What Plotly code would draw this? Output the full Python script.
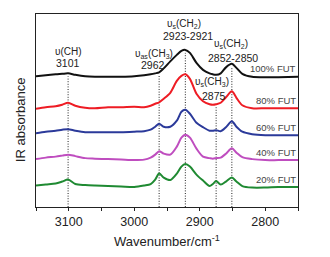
import numpy as np
import plotly.graph_objects as go

# Wavenumber grid (cm-1) at which the curves were read
wavenumber = [3150, 3135, 3120, 3110, 3101, 3090, 3075, 3060, 3040, 3020, 3000, 2985, 2975, 2968,
              2962, 2955, 2945, 2935, 2928, 2922, 2915, 2905, 2895, 2885, 2880, 2875, 2868, 2860,
              2851, 2844, 2835, 2820, 2800, 2780, 2750]

# IR absorbance (a.u., offset stacked)
fut100 = [1.310, 1.320, 1.330, 1.335, 1.340, 1.325, 1.310, 1.305, 1.305, 1.305, 1.310, 1.320, 1.330, 1.340,
          1.350, 1.390, 1.460, 1.525, 1.565, 1.575, 1.545, 1.445, 1.375, 1.340, 1.330, 1.325, 1.340, 1.400,
          1.435, 1.395, 1.335, 1.305, 1.302, 1.302, 1.305]
fut80 = [0.985, 1.000, 1.010, 1.025, 1.045, 1.015, 0.995, 0.990, 1.000, 1.000, 1.005, 1.000, 1.015, 1.035,
         1.050, 1.085, 1.145, 1.265, 1.315, 1.330, 1.285, 1.135, 1.060, 1.030, 1.025, 1.030, 1.045, 1.100,
         1.160, 1.095, 1.020, 0.990, 0.990, 0.990, 0.990]
fut60 = [0.740, 0.755, 0.765, 0.775, 0.780, 0.765, 0.750, 0.750, 0.750, 0.750, 0.755, 0.760, 0.775, 0.805,
         0.835, 0.805, 0.805, 0.865, 0.955, 0.975, 0.935, 0.845, 0.800, 0.765, 0.765, 0.770, 0.760, 0.800,
         0.860, 0.805, 0.755, 0.730, 0.720, 0.720, 0.720]
fut40 = [0.480, 0.495, 0.505, 0.515, 0.525, 0.510, 0.490, 0.485, 0.480, 0.475, 0.470, 0.475, 0.495, 0.525,
         0.560, 0.535, 0.525, 0.605, 0.695, 0.725, 0.695, 0.585, 0.505, 0.490, 0.485, 0.490, 0.495, 0.535,
         0.590, 0.545, 0.500, 0.480, 0.470, 0.470, 0.470]
fut20 = [0.215, 0.225, 0.235, 0.255, 0.275, 0.230, 0.220, 0.215, 0.210, 0.205, 0.200, 0.215, 0.230, 0.275,
         0.335, 0.295, 0.270, 0.335, 0.405, 0.430, 0.405, 0.325, 0.265, 0.210, 0.230, 0.260, 0.225, 0.255,
         0.295, 0.255, 0.210, 0.195, 0.195, 0.200, 0.200]

series_names = ["100% FUT", "80% FUT", "60% FUT", "40% FUT", "20% FUT"]
series_values = [fut100, fut80, fut60, fut40, fut20]
series_colors = ["#111111", "#ee1c24", "#2b3a9a", "#bf4dbf", "#1f8a32"]

# Band assignments
band_positions = [3101, 2962, 2922, 2875, 2851]
band_names = ["υ(CH)", "υ<sub>as</sub>(CH<sub>3</sub>)", "υ<sub>s</sub>(CH<sub>2</sub>)",
              "υ<sub>s</sub>(CH<sub>3</sub>)", "υ<sub>s</sub>(CH<sub>2</sub>)"]
band_labels = ["3101", "2962", "2923-2921", "2875", "2852-2850"]
band_top_series = [0, 0, 0, 1, 0]  # which spectrum the dotted guide starts under

FONT = "Liberation Sans, Arial, sans-serif"

fig = go.Figure()

wn = np.array(wavenumber)[::-1]
for pos, si in zip(band_positions, band_top_series):
    yv = np.array(series_values[si])[::-1]
    top = float(np.interp(pos, wn, yv)) - 0.03
    fig.add_trace(go.Scatter(x=[pos, pos], y=[0, top], mode="lines",
                             line=dict(color="#222222", width=1, dash="1px,1.6px"),
                             showlegend=False, hoverinfo="skip"))

for name, vals, col in zip(series_names, series_values, series_colors):
    fig.add_trace(go.Scatter(x=wavenumber, y=vals, mode="lines", name=name,
                             line=dict(color=col, width=2, shape="spline", smoothing=0.8),
                             showlegend=False))
    fig.add_annotation(x=1, xref="paper", xanchor="right", y=vals[-1], yanchor="middle",
                       yshift=8, text=name, showarrow=False,
                       font=dict(family=FONT, size=9.5, color="#444444"))

# band labels (name line above, wavenumber line below)
name_xy = [(3101, 1.555), (2970, 1.535), (2924, 1.835), (2881, 1.255), (2852, 1.635)]
num_xy = [(3101, 1.445), (2972, 1.420), (2918, 1.715), (2878, 1.115), (2849, 1.498)]
for (nx, ny), (lx, ly), nm, lb in zip(name_xy, num_xy, band_names, band_labels):
    fig.add_annotation(x=nx, y=ny, text=nm, showarrow=False, xanchor="center", yanchor="middle",
                       font=dict(family=FONT, size=10, color="#222222"))
    fig.add_annotation(x=lx, y=ly, text=lb, showarrow=False, xanchor="center", yanchor="middle",
                       font=dict(family=FONT, size=10.5, color="#222222"))

fig.add_annotation(xref="paper", yref="paper", x=0.5, y=-0.177, text="Wavenumber/cm<sup>-1</sup>",
                   showarrow=False, xanchor="center", yanchor="middle",
                   font=dict(family=FONT, size=13, color="#222222"))
fig.add_annotation(xref="paper", yref="paper", x=0, y=0.45, xshift=-16, text="IR absorbance",
                   textangle=-90, showarrow=False, xanchor="center", yanchor="middle",
                   font=dict(family=FONT, size=13, color="#222222"))

fig.update_layout(
    width=330, height=257,
    margin=dict(l=36, r=32, t=14, b=50),
    paper_bgcolor="white", plot_bgcolor="white",
    font=dict(family=FONT, size=12, color="#222222"),
    xaxis=dict(range=[3150, 2750], showline=True, mirror=True, linecolor="#222222", linewidth=1.2,
               ticks="outside", ticklen=3, tickwidth=1, tickcolor="#222222",
               tick0=3100, dtick=100, showgrid=False, zeroline=False,
               tickfont=dict(family=FONT, size=12.5, color="#222222"),
               minor=dict(dtick=50, tick0=3100, ticks="outside", ticklen=3, tickwidth=1,
                          tickcolor="#222222", showgrid=False)),
    yaxis=dict(range=[0, 1.935], showline=True, mirror=True, linecolor="#222222", linewidth=1.2,
               showticklabels=False, ticks="", showgrid=False, zeroline=False),
)

fig.write_html("out.html", post_script="document.body.style.margin='0';",
               config={"displayModeBar": False})
